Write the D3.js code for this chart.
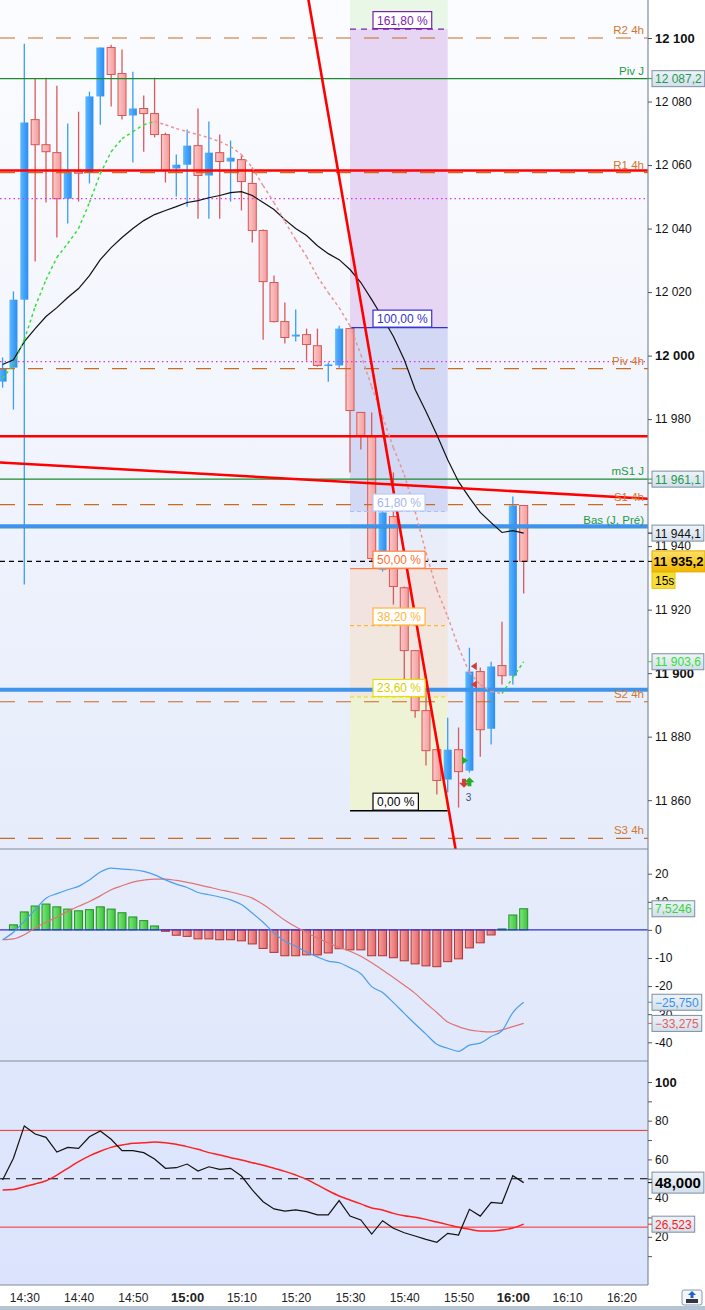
<!DOCTYPE html>
<html>
<head>
<meta charset="utf-8">
<script src="https://cdn.jsdelivr.net/npm/d3@7"></script>
<style>
  body { margin: 0; background: #fff; }
  text { font-family: "Liberation Sans", Arial, sans-serif; }
</style>
</head>
<body>
<div id="chart"></div>
<script>
// ---- data ----
const times = ["14:26","14:28","14:30","14:32","14:34","14:36","14:38","14:40","14:42","14:44","14:46","14:48","14:50","14:52","14:54","14:56","14:58",
  "15:00","15:02","15:04","15:06","15:08","15:10","15:12","15:14","15:16","15:18","15:20","15:22","15:24","15:26","15:28","15:30","15:32","15:34","15:36","15:38",
  "15:40","15:42","15:44","15:46","15:48","15:50","15:52","15:54","15:56","15:58","16:00","16:02"];

const open = [11991.8,11996.2,12017.6,12074.3,12066.4,12063.9,12049.4,12057.9,12057.6,12081.6,12097.0,12088.8,12075.6,12077.8,12076.2,12069.6,12058.9,
  12060.1,12066.1,12056.7,12063.9,12061.1,12061.7,12054.2,12039.4,12023.0,12010.7,12006.0,12006.6,12003.1,11996.9,11996.9,12008.5,11982.1,11974.5,11932.6,11949.3,
  11926.9,11907.1,11888.2,11875.9,11866.5,11875.9,11869.3,11900.5,11882.5,11902.4,11899.2,11952.8];
const high = [11999.4,12020.2,12098.2,12087.2,12087.5,12085.0,12073.1,12076.8,12083.1,12097.0,12097.9,12096.4,12089.4,12081.9,12087.5,12070.2,12063.3,
  12071.2,12077.8,12073.7,12069.6,12067.7,12063.0,12059.2,12039.7,12025.2,12016.7,12014.5,12008.5,12008.5,11997.8,12009.4,12008.5,11982.1,11982.1,11955.6,11963.2,
  11927.3,11907.1,11894.8,11875.9,11886.0,11882.9,11908.0,11901.8,11903.6,11916.2,11955.6,11952.8];
const low = [11989.9,11983.0,11927.9,12029.6,12048.2,12037.2,12041.6,12048.5,12054.2,12072.7,12078.4,12074.3,12060.8,12064.2,12068.7,12054.5,12050.1,
  12046.9,12043.1,12043.1,12043.1,12048.5,12045.7,12035.6,12005.0,12010.4,12003.8,12004.4,11998.4,11996.5,11991.8,11996.2,11963.2,11970.4,11935.1,11932.0,11921.6,
  11898.0,11886.0,11870.9,11861.8,11862.4,11857.7,11868.7,11873.7,11877.5,11896.4,11896.4,11925.1];
const close = [11995.9,12017.6,12073.4,12066.4,12064.2,12049.4,12057.9,12057.6,12081.6,12097.0,12088.5,12075.6,12077.8,12076.2,12069.6,12058.3,12060.1,
  12066.1,12056.7,12063.9,12061.1,12062.3,12054.8,12039.4,12023.3,12010.7,12005.7,12006.6,12003.5,11996.9,11997.2,12008.5,11982.7,11974.8,11936.1,11950.6,11927.3,
  11907.1,11888.2,11875.6,11866.2,11875.9,11869.0,11900.5,11882.2,11902.1,11899.2,11952.8,11935.2];

const maSlow = [11997.2,11998.7,12004.4,12008.5,12012.3,12015.1,12018.3,12021.1,12025.2,12030.2,12034.0,12037.2,12040.0,12042.5,12044.4,12045.7,12046.9,
  12048.2,12048.8,12049.7,12050.4,12051.3,12051.6,12050.4,12048.2,12046.0,12042.8,12040.0,12037.8,12034.6,12032.1,12030.2,12027.1,12023.0,12017.6,12012.0,12006.0,
  11998.7,11989.3,11982.4,11975.1,11967.2,11960.3,11955.3,11950.6,11947.4,11944.3,11944.9,11944.1];
const maFast = [11992.8,11997.2,12005.0,12015.4,12023.9,12030.9,12035.3,12040.0,12048.2,12057.3,12064.2,12068.3,12070.5,12072.7,12073.7,12072.7,12071.5,
  12070.5,12069.6,12068.6,12067.4,12065.8,12063.3,12059.2,12053.5,12048.2,12042.2,12036.5,12031.2,12024.9,12019.8,12015.1,12009.4,12000.3,11990.2,11980.8,11971.0,
  11962.5,11950.9,11938.0,11926.3,11917.8,11908.1,11900.2,11896.4,11894.2,11893.6,11898.6,11903.6];

const macdHist = [0,1.8,6.4,8.5,9.2,8.2,7.4,6.8,7.2,8.2,7.4,6.1,4.6,3.3,1.4,-0.5,-1.9,-2.3,-3.2,-3.2,-3.5,-3.5,-3.9,-5.0,-6.6,-8.0,-9.2,-9.2,-8.9,-8.9,
  -8.2,-6.7,-7.1,-7.1,-9.2,-9.2,-9.9,-11.0,-12.1,-12.8,-13.1,-11.3,-10.3,-6.4,-4.6,-1.8,0.35,5.3,7.5246];
const macdLine = [-3.5,-0.85,3.05,7.2,11.3,12.9,14.3,15.5,17.8,20.6,22.0,21.6,21.4,20.8,19.6,17.8,16.3,15.1,13.3,12.5,11.7,10.7,9.0,6.0,2.7,-1.1,-4.0,-5.8,
  -7.9,-9.6,-11.1,-11.7,-13.5,-15.6,-20.2,-22.3,-25.9,-29.7,-33.5,-37.1,-40.7,-42.1,-43.2,-41.0,-40.3,-37.9,-35.9,-29.4,-25.75];
const macdSignal = [-3.5,-3.2,-1.7,0.7,2.7,4.6,6.6,8.4,10.1,12.1,14.3,15.7,17.0,17.7,18.1,18.1,17.6,16.9,16.1,15.2,14.3,13.5,12.5,11.3,9.0,6.3,3.4,1.1,
  -0.85,-2.9,-4.6,-6.2,-7.6,-9.4,-11.7,-14.3,-16.9,-19.7,-22.6,-26.1,-29.4,-32.8,-34.4,-35.6,-36.1,-36.3,-35.6,-34.4,-33.275];

const stochK = [49.4,60.6,77.3,73.1,71.4,63.8,66.2,65.7,71.7,74.7,70.4,64.5,64.5,63.5,60.2,55.4,55.7,57.6,54.0,56.2,54.9,55.4,51.4,44.2,38.1,34.4,33.3,
  33.9,33.0,31.3,31.3,38.7,30.7,28.7,21.4,28.3,24.4,22.1,20.4,18.7,17.2,21.8,20.9,34.2,30.7,37.8,37.3,51.6,48.0];
const stochD = [44.2,44.5,45.9,47.3,49.0,51.9,55.4,58.8,61.8,64.2,66.2,67.4,68.3,68.6,69.0,68.6,67.8,66.6,65.2,63.5,62.3,60.9,59.7,58.3,57.0,55.4,53.8,
  51.9,49.7,46.8,43.8,41.1,39.0,37.0,34.9,33.9,32.1,30.9,30.1,29.0,27.6,26.3,24.9,23.9,23.0,23.0,23.5,24.5,26.523];

const pivotNames = ["R2 4h","R1 4h","Piv 4h","S1 4h","S2 4h","S3 4h"];
const pivotPrices = [12100.0,12057.6,11995.9,11953.1,11891.0,11848.0];
const dayNames = ["Piv J","mS1 J","Bas (J, Pré)"];
const dayPrices = [12087.2,11961.1,11945.8];
const redLevels = [12058.3,11974.6];
const blueLevels = [11946.3,11894.8];
const dotLevels = [12049.4,11998.1];
const lastPrice = 11935.2;

const fibPct = ["0,00 %","23,60 %","38,20 %","50,00 %","61,80 %","100,00 %","161,80 %"];
const fibPrices = [11856.7,11892.5,11915.0,11932.9,11950.9,12008.8,12102.8];
const fibTimes = ["15:30","15:48"];

const trendA = { t: ["15:24","15:56"], p: [12095.7,11779.9] };
const trendB = { t: ["14:30","16:20"], p: [11965.9,11955.4] };

const markerTimes = ["15:53","15:53","15:51","15:51","15:52"];
const markerPrices = [11902.2,11896.4,11872.5,11865.2,11866.0];
const markerKinds = ["sellL","sellL","buyR","down","up"];

const timeTicks = ["14:30","14:40","14:50","15:00","15:10","15:20","15:30","15:40","15:50","16:00","16:10","16:20"];
const priceTicks = [11860,11880,11900,11920,11940,11960,11980,12000,12020,12040,12060,12080,12100];
const priceHidden = [11960];
const macdTicks = [-40,-30,-20,-10,0,10,20];
const stochTicks = [20,40,60,80,100];

// ---- layout ----
const width = 705, height = 1310, plotR = 648;
const pTop = 0, pBot = 849, mTop = 849, mBot = 1061, sTop = 1061, sBot = 1285;

const T = d3.timeParse("%H:%M");
const loc = d3.formatLocale({ decimal: ",", thousands: " ", grouping: [3], currency: ["", ""] });
const fmtInt = loc.format(",.0f"), fmt1 = loc.format(",.1f");

const x = d3.scaleTime().domain([T("14:30"), T("16:20")]).range([24.3, 621.4]);
const y = d3.scaleLinear().domain([11860, 12100]).range([800.2, 38]);
const ym = d3.scaleLinear().domain([-40, 20]).range([1042.3, 873.7]);
const ys = d3.scaleLinear().domain([0, 100]).range([1275.5, 1082]);

const svg = d3.select("#chart").append("svg").attr("width", width).attr("height", height);
const defs = svg.append("defs");

function grad(id, stops, vertical) {
  const g = defs.append("linearGradient").attr("id", id)
    .attr("x1", 0).attr("y1", 0).attr("x2", vertical ? 0 : 1).attr("y2", vertical ? 1 : 0);
  stops.forEach((c, i) => g.append("stop").attr("offset", i / (stops.length - 1)).attr("stop-color", c));
}
grad("bgPrice", ["#fbfcff", "#f2f5fd", "#e6ecfb"], true);
grad("bgMacd", ["#e6ecfb", "#e0e8fb"], true);
grad("bgStoch", ["#dfe7fc", "#dbe4fc"], true);
grad("candUp", ["#5cb8ff", "#2a8cf0"], false);
grad("candDn", ["#fcc8c8", "#f39c9c"], false);
grad("histUp", ["#7de87d", "#3cc23c"], false);
grad("histDn", ["#f6a0a0", "#e46868"], false);
grad("boxG", ["#eef3f8", "#d3dfeb"], true);
grad("boxGold", ["#ffe066", "#f2b600"], true);

[["cp", pTop, pBot], ["cm", mTop, mBot], ["cs", sTop, sBot]].forEach(([id, a, b]) => {
  defs.append("clipPath").attr("id", id).append("rect").attr("x", 0).attr("y", a).attr("width", plotR).attr("height", b - a);
});

svg.append("rect").attr("x", 0).attr("y", pTop).attr("width", plotR).attr("height", pBot - pTop).attr("fill", "url(#bgPrice)");
svg.append("rect").attr("x", 0).attr("y", mTop).attr("width", plotR).attr("height", mBot - mTop).attr("fill", "url(#bgMacd)");
svg.append("rect").attr("x", 0).attr("y", sTop).attr("width", plotR).attr("height", sBot - sTop).attr("fill", "url(#bgStoch)");

const gp = svg.append("g").attr("clip-path", "url(#cp)");

// ---- fibonacci zones ----
const fx0 = x(T(fibTimes[0])), fx1 = x(T(fibTimes[1]));
const zoneColors = ["#eef3d6", "#f1e7df", "#f2e2e0", "#e9edfa", "#d3d8f5", "#e6d5f3", "#e9f8e6"];
const fibLine = ["#000000", "#e6df00", "#ffb43a", "#ff8040", "#a9c0f7", "#3333cc", "#7a22b0"];
const fibText = ["#000000", "#d9cf00", "#ffb43a", "#ff7030", "#9fb6ee", "#3333cc", "#7a22b0"];
const fibDash = [null, "4,3", "4,3", null, "4,3", null, "6,5"];
fibPrices.forEach((p, i) => {
  const top = i < fibPrices.length - 1 ? y(fibPrices[i + 1]) : pTop;
  gp.append("rect").attr("x", fx0).attr("width", fx1 - fx0)
    .attr("y", top).attr("height", y(p) - top).attr("fill", zoneColors[i]);
});

// ---- candles ----
const idx = d3.range(times.length);
const bw = 8;
gp.selectAll(".wick").data(idx).join("line")
  .attr("x1", i => x(T(times[i]))).attr("x2", i => x(T(times[i])))
  .attr("y1", i => y(high[i])).attr("y2", i => y(low[i]))
  .attr("stroke", i => close[i] >= open[i] ? "#3a9cf4" : "#d95a5a").attr("stroke-width", 1.3);
gp.selectAll(".body").data(idx).join("rect")
  .attr("x", i => x(T(times[i])) - bw / 2).attr("width", bw)
  .attr("y", i => y(Math.max(open[i], close[i])))
  .attr("height", i => Math.max(1.5, Math.abs(y(open[i]) - y(close[i]))))
  .attr("fill", i => close[i] >= open[i] ? "url(#candUp)" : "url(#candDn)")
  .attr("stroke", i => close[i] >= open[i] ? "none" : "#d65656").attr("stroke-width", 1);

// ---- horizontal levels ----
function hline(p, color, w, dash) {
  gp.append("line").attr("x1", 0).attr("x2", plotR).attr("y1", y(p)).attr("y2", y(p))
    .attr("stroke", color).attr("stroke-width", w).attr("stroke-dasharray", dash);
}
pivotPrices.forEach(p => hline(p, "#cc6a1e", 1.2, "15,13"));
dotLevels.forEach(p => hline(p, "#dd33ee", 1.2, "1.5,3"));
dayPrices.forEach(p => hline(p, "#1e8a2e", 1.2, null));
redLevels.forEach(p => hline(p, "#ff0000", 2.5, null));
blueLevels.forEach(p => hline(p, "#3f93ea", 4, null));
hline(lastPrice, "#000000", 1.2, "5,4");

// fib level lines
fibPrices.forEach((p, i) => {
  gp.append("line").attr("x1", fx0).attr("x2", fx1).attr("y1", y(p)).attr("y2", y(p))
    .attr("stroke", fibLine[i]).attr("stroke-width", i === 0 ? 1.5 : 1.2).attr("stroke-dasharray", fibDash[i]);
});

// ---- moving averages ----
const lineP = d3.line().x((d, i) => x(T(times[i]))).y(d => y(d));
gp.append("path").attr("d", lineP(maSlow)).attr("fill", "none").attr("stroke", "#111").attr("stroke-width", 1.2);
maFast.forEach((v, i) => {
  if (i === 0) return;
  gp.append("line")
    .attr("x1", x(T(times[i - 1]))).attr("y1", y(maFast[i - 1]))
    .attr("x2", x(T(times[i]))).attr("y2", y(v))
    .attr("stroke", v >= maFast[i - 1] ? "#33e033" : "#e99494")
    .attr("stroke-width", 1.5).attr("stroke-dasharray", "3,3");
});

// ---- trend lines ----
function trend(tr) {
  const xa = x(T(tr.t[0])), ya = y(tr.p[0]), xb = x(T(tr.t[1])), yb = y(tr.p[1]);
  const s = (yb - ya) / (xb - xa);
  gp.append("line").attr("x1", -10).attr("y1", ya + s * (-10 - xa))
    .attr("x2", plotR + 10).attr("y2", ya + s * (plotR + 10 - xa))
    .attr("stroke", "#ff0000").attr("stroke-width", 2.6);
}
trend(trendA);
trend(trendB);

// ---- markers ----
markerKinds.forEach((k, i) => {
  const mx = x(T(markerTimes[i])), my = y(markerPrices[i]);
  let d, c;
  if (k === "sellL") { d = `M${mx - 4},${my} L${mx + 2},${my - 4} L${mx + 2},${my + 4} Z`; c = "#d63a3a"; }
  if (k === "buyR") { d = `M${mx + 4},${my} L${mx - 2},${my - 4} L${mx - 2},${my + 4} Z`; c = "#22b022"; }
  if (k === "down") { d = `M${mx - 2},${my - 5} h4 v4 h3 l-5,5 l-5,-5 h3 Z`; c = "#d63a3a"; }
  if (k === "up") { d = `M${mx - 2},${my + 5} h4 v-4 h3 l-5,-5 l-5,5 h3 Z`; c = "#22b022"; }
  gp.append("path").attr("d", d).attr("fill", c);
});
gp.append("text").attr("x", x(T("15:52")) - 1).attr("y", y(11860) + 1).attr("font-size", 10)
  .attr("fill", "#335577").attr("text-anchor", "middle").text("3");

// ---- level labels ----
function lvlLabel(p, txt, color, dy) {
  svg.append("text").attr("x", 644).attr("y", y(p) + (dy || -4)).attr("text-anchor", "end")
    .attr("font-size", 11.5).attr("fill", color).text(txt);
}
pivotNames.forEach((n, i) => lvlLabel(pivotPrices[i], n, "#d2772a"));
dayNames.forEach((n, i) => lvlLabel(dayPrices[i], n, "#1e9a3e"));

// fib labels
fibPct.forEach((t, i) => {
  const ty = y(fibPrices[i]);
  const g = svg.append("g");
  const tx = g.append("text").attr("x", 377).attr("y", ty - 4.5).attr("font-size", 12)
    .attr("fill", fibText[i]).text(t);
  const w = tx.node().getComputedTextLength();
  g.insert("rect", "text").attr("x", 373).attr("y", ty - 17.5).attr("width", w + 8).attr("height", 17)
    .attr("fill", "#fff").attr("stroke", i === 4 ? "#b8ccf8" : fibLine[i]).attr("stroke-width", 1.2);
});

// ---- MACD panel ----
const gm = svg.append("g").attr("clip-path", "url(#cm)");
gm.selectAll(".hist").data(idx).join("rect")
  .attr("x", i => x(T(times[i])) - 4).attr("width", 8)
  .attr("y", i => ym(Math.max(0, macdHist[i])))
  .attr("height", i => Math.abs(ym(macdHist[i]) - ym(0)))
  .attr("fill", i => macdHist[i] >= 0 ? "url(#histUp)" : "url(#histDn)")
  .attr("stroke", i => macdHist[i] >= 0 ? "#239023" : "#b03434").attr("stroke-width", 1);
gm.append("line").attr("x1", 0).attr("x2", plotR).attr("y1", ym(0)).attr("y2", ym(0))
  .attr("stroke", "#2e2ed8").attr("stroke-width", 1.3);
const lineM = d3.line().x((d, i) => x(T(times[i]))).y(d => ym(d)).curve(d3.curveMonotoneX);
gm.append("path").attr("d", lineM(macdSignal)).attr("fill", "none").attr("stroke", "#e07474").attr("stroke-width", 1.2);
gm.append("path").attr("d", lineM(macdLine)).attr("fill", "none").attr("stroke", "#4b9ff0").attr("stroke-width", 1.2);

// ---- stochastic panel ----
const gs = svg.append("g").attr("clip-path", "url(#cs)");
[75, 25].forEach(v => gs.append("line").attr("x1", 0).attr("x2", plotR).attr("y1", ys(v)).attr("y2", ys(v))
  .attr("stroke", "#ff2a2a").attr("stroke-width", 1));
gs.append("line").attr("x1", 0).attr("x2", plotR).attr("y1", ys(50)).attr("y2", ys(50))
  .attr("stroke", "#000").attr("stroke-width", 1.2).attr("stroke-dasharray", "10,6");
const lineS = d3.line().x((d, i) => x(T(times[i]))).y(d => ys(d));
gs.append("path").attr("d", lineS.curve(d3.curveMonotoneX)(stochD)).attr("fill", "none").attr("stroke", "#ff2020").attr("stroke-width", 1.5);
gs.append("path").attr("d", d3.line().x((d, i) => x(T(times[i]))).y(d => ys(d))(stochK)).attr("fill", "none").attr("stroke", "#111").attr("stroke-width", 1.2);

// ---- frame ----
[pBot, mBot, sBot].forEach(v => svg.append("line").attr("x1", 0).attr("x2", plotR).attr("y1", v).attr("y2", v)
  .attr("stroke", "#7f8e9c").attr("stroke-width", 1.2));
svg.append("line").attr("x1", plotR).attr("x2", plotR).attr("y1", 0).attr("y2", sBot).attr("stroke", "#7f8e9c").attr("stroke-width", 1.2);

// ---- axes ----
function styleAxis(g, boldVals) {
  g.select(".domain").remove();
  g.selectAll(".tick line").attr("stroke", "#555");
  g.selectAll(".tick text").attr("fill", "#111")
    .attr("font-family", "Liberation Sans, Arial, sans-serif")
    .attr("font-weight", d => boldVals.includes(+d) ? "bold" : "normal")
    .attr("font-size", d => boldVals.includes(+d) ? 13 : 12);
}
const ax1 = svg.append("g").attr("transform", `translate(${plotR},0)`)
  .call(d3.axisRight(y).tickValues(priceTicks).tickSize(4).tickPadding(3)
    .tickFormat(d => priceHidden.includes(d) ? "" : fmtInt(d)));
styleAxis(ax1, [12100, 12000, 11900]);
const ax2 = svg.append("g").attr("transform", `translate(${plotR},0)`)
  .call(d3.axisRight(ym).tickValues(macdTicks).tickSize(4).tickPadding(3).tickFormat(d => d));
styleAxis(ax2, []);
const ax3 = svg.append("g").attr("transform", `translate(${plotR},0)`)
  .call(d3.axisRight(ys).tickValues(d3.range(10, 101, 10)).tickSize(4).tickPadding(3)
    .tickFormat(d => stochTicks.includes(d) ? d : ""));
styleAxis(ax3, [100]);

const axT = svg.append("g").attr("transform", `translate(0,${sBot})`)
  .call(d3.axisBottom(x).tickValues(timeTicks.map(T)).tickSize(0).tickPadding(8).tickFormat(d3.timeFormat("%H:%M")));
axT.select(".domain").remove();
axT.selectAll(".tick text").attr("fill", "#222")
  .attr("font-family", "Liberation Sans, Arial, sans-serif")
  .attr("font-weight", d => d.getMinutes() === 0 ? "bold" : "normal")
  .attr("font-size", d => d.getMinutes() === 0 ? 13 : 12);

// ---- value boxes on the right axis ----
function valueBox(yy, txt, color, opt) {
  opt = opt || {};
  const g = svg.append("g");
  const fs = opt.size || (opt.big ? 15 : 12);
  const t = g.append("text").attr("x", opt.tx || 655).attr("y", yy + fs * 0.38)
    .attr("font-size", fs).attr("font-weight", opt.big ? "bold" : "normal")
    .attr("fill", color).text(txt);
  const w = t.node().getComputedTextLength();
  const h = opt.big ? 21 : 16;
  g.insert("rect", "text").attr("x", 652).attr("y", yy - h / 2)
    .attr("width", Math.min(w + (opt.tx || 655) - 652 + 3, width - 652)).attr("height", h)
    .attr("fill", opt.fill || "url(#boxG)").attr("stroke", opt.stroke || "#7b8fa3").attr("stroke-width", 1);
  svg.append("line").attr("x1", plotR).attr("x2", 652).attr("y1", yy).attr("y2", yy).attr("stroke", color);
}
valueBox(y(dayPrices[0]), fmt1(dayPrices[0]), "#1e9a4e");
valueBox(y(dayPrices[1]), fmt1(dayPrices[1]), "#1e9a4e");
valueBox(y(maSlow[maSlow.length - 1]), fmt1(maSlow[maSlow.length - 1]), "#111");
valueBox(y(maFast[maFast.length - 1]), fmt1(maFast[maFast.length - 1]), "#33e033");
valueBox(y(lastPrice), fmt1(lastPrice), "#000", { big: true, size: 13, tx: 653.5, fill: "url(#boxGold)", stroke: "#e0a800" });
svg.append("rect").attr("x", 652).attr("y", y(lastPrice) + 11).attr("width", 23).attr("height", 16)
  .attr("fill", "#f5dc3c").attr("stroke", "#e8c800");
svg.append("text").attr("x", 655).attr("y", y(lastPrice) + 23.5).attr("font-size", 12).attr("fill", "#000").text("15s");

const f4 = loc.format(".4f"), f3 = loc.format(".3f");
valueBox(ym(macdHist[macdHist.length - 1]), f4(macdHist[macdHist.length - 1]), "#3ad23a");
valueBox(ym(macdLine[macdLine.length - 1]), f3(macdLine[macdLine.length - 1]), "#3a90e8");
valueBox(ym(macdSignal[macdSignal.length - 1]), f3(macdSignal[macdSignal.length - 1]), "#e06060");
valueBox(ys(stochK[stochK.length - 1]), f3(stochK[stochK.length - 1]), "#000", { big: true });
valueBox(ys(stochD[stochD.length - 1]), f3(stochD[stochD.length - 1]), "#ff1a1a");

// ---- bottom strip and corner icon ----
svg.append("rect").attr("x", 0).attr("y", 1306).attr("width", width).attr("height", 4).attr("fill", "#b3c5d5");
svg.append("rect").attr("x", 682).attr("y", 1290).attr("width", 20).attr("height", 15).attr("rx", 2)
  .attr("fill", "#f3f6fa").attr("stroke", "#8a9aaa");
svg.append("path").attr("d", "M692,1291 l4,4 h-2.5 v3 h-3 v-3 h-2.5 Z").attr("fill", "#1f5fd0");
svg.append("rect").attr("x", 686).attr("y", 1299).attr("width", 12).attr("height", 4).attr("fill", "#334");
</script>
</body>
</html>
